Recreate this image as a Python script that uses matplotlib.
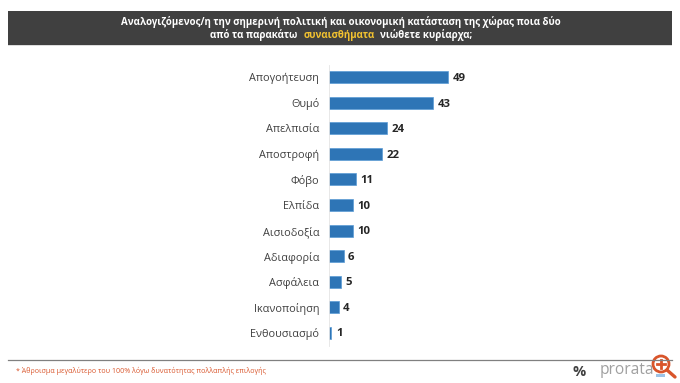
import matplotlib
matplotlib.use("Agg")
import matplotlib.pyplot as plt
from matplotlib.patches import Rectangle, Circle
from matplotlib.lines import Line2D

categories = ["Απογοήτευση", "Θυμό", "Απελπισία", "Αποστροφή", "Φόβο", "Ελπίδα",
              "Αισιοδοξία", "Αδιαφορία", "Ασφάλεια", "Ικανοποίηση", "Ενθουσιασμό"]
values = [49, 43, 24, 22, 11, 10, 10, 6, 5, 4, 1]

W, H = 680, 383
FONT = "Open Sans"
plt.rcParams["font.family"] = FONT
fig = plt.figure(figsize=(W / 100, H / 100), dpi=100, facecolor="white")

def fx(x): return x / W
def fy(y): return 1 - y / H

# chart axes
left, top, bottom = 329, 65, 346
px_per_unit = 2.425
ax = fig.add_axes([fx(left), fy(bottom), 150 / W, (bottom - top) / H])
ax.set_xlim(0, 150 / px_per_unit)
ypos = list(range(len(categories)))
ax.set_ylim(10.52, -0.48)
ax.barh(ypos, values, height=0.47, color="#2E75B6", edgecolor="#5B9BD5", linewidth=0.5)
ax.set_yticks(ypos, categories, fontsize=7.8, color="#404040")
ax.tick_params(axis="y", length=0, pad=7)
ax.xaxis.set_visible(False)
for s in ["top", "right", "bottom"]:
    ax.spines[s].set_visible(False)
ax.spines["left"].set_color("#E4E4E4")
ax.spines["left"].set_linewidth(0.6)
ax.patch.set_alpha(0)
for y, v in zip(ypos, values):
    ax.annotate(str(v), (v, y), xytext=(3.2, -0.9), textcoords="offset points",
                va="center", ha="left", fontsize=8.2, fontweight="bold", color="#262626")

# header
fig.add_artist(Rectangle((fx(8), fy(46)), (672 - 8) / W, 1 / H, transform=fig.transFigure,
                         facecolor="#DDDDDD", edgecolor="none"))
fig.add_artist(Rectangle((fx(8), fy(45)), (672 - 8) / W, 34 / H, transform=fig.transFigure,
                         facecolor="#404040", edgecolor="none"))
fig.text(fx(341), fy(22.5), "Αναλογιζόμενος/η την σημερινή πολιτική και οικονομική κατάσταση της χώρας ποια δύο",
         color="white", fontsize=7.05, fontweight="bold", ha="center", va="center")
fig.text(fx(210), fy(35), "από τα παρακάτω", color="white", fontsize=7.05, fontweight="bold", ha="left", va="center")
fig.text(fx(304), fy(35), "συναισθήματα", color="#F2C230", fontsize=7.05, fontweight="bold", ha="left", va="center")
fig.text(fx(380), fy(35), "νιώθετε κυρίαρχα;", color="white", fontsize=7.05, fontweight="bold", ha="left", va="center")

# footer
fig.add_artist(Line2D([fx(8), fx(672)], [fy(360), fy(360)], color="#808080", lw=0.9))
fig.text(fx(16), fy(371), "* Άθροισμα μεγαλύτερο του 100% λόγω δυνατότητας πολλαπλής επιλογής",
         color="#D9552B", fontsize=5.1, ha="left", va="center")
fig.text(fx(579), fy(372), "%", color="#404040", fontsize=10.5, fontweight="bold", ha="center", va="center")
fig.text(fx(600), fy(370.5), "prorata", color="#A0A0A0", fontsize=11.2, ha="left", va="center")
fig.add_artist(Rectangle((fx(656), fy(377)), 9 / W, 3 / H, transform=fig.transFigure,
                         facecolor="#9DC3E6", edgecolor="none"))

# magnifier overlay
ov = fig.add_axes([0, 0, 1, 1], facecolor="none")
ov.set_xlim(0, W); ov.set_ylim(H, 0); ov.axis("off")
ov.plot([667, 675], [370, 377], color="#D9552B", lw=2.4, solid_capstyle="round")
ov.add_patch(Circle((661, 364), 8, facecolor="#FFFFFF", edgecolor="#D9552B", lw=2))
ov.plot([657, 665], [364, 364], color="#D9552B", lw=2)
ov.plot([661, 661], [360, 368], color="#D9552B", lw=2)

fig.savefig("out.png", dpi=100)
